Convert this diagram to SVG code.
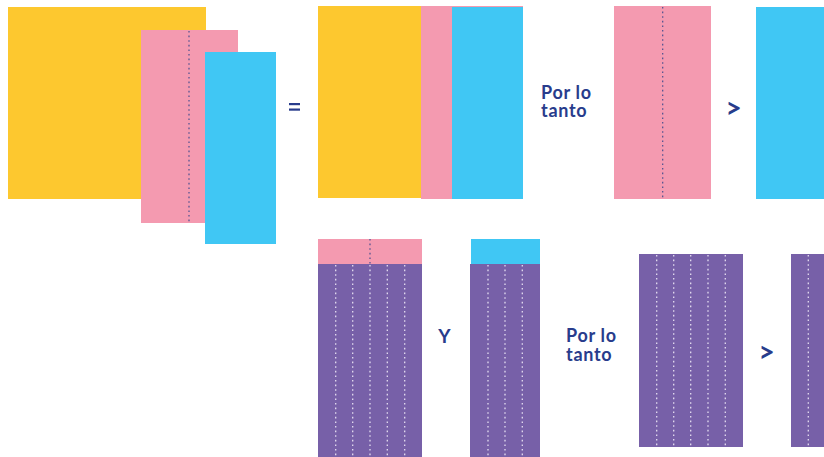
<svg xmlns="http://www.w3.org/2000/svg" width="824" height="457" viewBox="0 0 824 457">
<style>
.y{fill:#FDC82F}.p{fill:#F49AB0}.b{fill:#40C7F4}.v{fill:#7760A8}
.dd{stroke:#4A4F8F;stroke-width:1.2;stroke-dasharray:1.6 3;fill:none}
.wd{stroke:#E4DDF0;stroke-width:1.3;stroke-dasharray:1.6 3;fill:none}
.t{font-family:Lato,"Open Sans",sans-serif;font-weight:bold;fill:#283C8C}
.lbl{font-size:18px;letter-spacing:0.7px}
</style>
<rect width="824" height="457" fill="#fff"/>
<g id="group1">
<rect class="y" x="8" y="7" width="198" height="192"/>
<rect class="p" x="141" y="30" width="97" height="193"/>
<line class="dd" x1="189" y1="31" x2="189" y2="222"/>
<rect class="b" x="205" y="52" width="71" height="192"/>
</g>
<g id="eq"><rect x="289" y="103" width="11" height="2.2" fill="#283C8C"/><rect x="289" y="108.5" width="11" height="2.2" fill="#283C8C"/></g>
<g id="group2">
<rect class="y" x="318" y="6" width="103" height="192"/>
<rect class="p" x="421" y="6" width="102" height="193"/>
<rect class="b" x="452" y="7" width="71" height="192"/>
</g>
<g id="text1"><text class="t lbl" x="541" y="99">Por lo<tspan x="541" y="117">tanto</tspan></text></g>
<g id="pink1">
<rect class="p" x="614" y="6" width="97" height="193"/>
<line class="dd" x1="662.7" y1="7" x2="662.7" y2="198"/>
</g>
<g id="gt1"><text class="t" x="733.5" y="117.5" font-size="28" text-anchor="middle">&gt;</text></g>
<g id="blue1"><rect class="b" x="756" y="7" width="68" height="192"/></g>
<g id="col1">
<rect class="p" x="318" y="239" width="104" height="25"/>
<line class="dd" x1="370" y1="239" x2="370" y2="264"/>
<rect class="v" x="318" y="264" width="104" height="193"/>
<path class="wd" d="M335.7 265V457M352.7 265V457M370 265V457M387.3 265V457M404.7 265V457"/>
</g>
<g id="y"><text class="t" x="444.5" y="343" font-size="19" text-anchor="middle">Y</text></g>
<g id="col2">
<rect class="b" x="471" y="239" width="69" height="25"/>
<rect class="v" x="470" y="264" width="70" height="193"/>
<path class="wd" d="M488 265V457M505 265V457M522.3 265V457"/>
</g>
<g id="text2"><text class="t lbl" x="566" y="342">Por lo<tspan x="566" y="361">tanto</tspan></text></g>
<g id="col3">
<rect class="v" x="639" y="254" width="104" height="193"/>
<path class="wd" d="M656.7 255V447M673.7 255V447M690.7 255V447M708 255V447M725.3 255V447"/>
</g>
<g id="gt2"><text class="t" x="766.5" y="362" font-size="28" text-anchor="middle">&gt;</text></g>
<g id="col4">
<rect class="v" x="791" y="254" width="33" height="193"/>
<path class="wd" d="M808.3 255V447"/>
</g>
</svg>
